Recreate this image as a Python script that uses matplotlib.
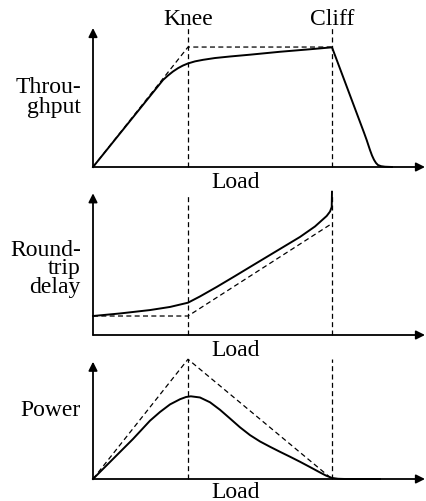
import matplotlib
matplotlib.use("Agg")
import matplotlib.pyplot as plt

# ---------------- data (load units: knee = 1.0, cliff = 2.516) ----------------
knee_load = 1.0
cliff_load = 2.516

# Throughput panel
tp_load = [0, 0.737, 0.789, 0.842, 0.895, 0.947, 1.0, 1.074, 1.158, 1.284, 1.442, 1.653,
           1.968, 2.284, 2.516, 2.853, 2.881, 2.895, 2.916, 2.937, 2.958, 2.979, 3.0,
           3.032, 3.074, 3.147]
tp_val = [0, 0.626, 0.658, 0.687, 0.711, 0.730, 0.745, 0.760, 0.771, 0.784, 0.795, 0.808,
          0.829, 0.847, 0.861, 0.247, 0.194, 0.165, 0.122, 0.083, 0.052, 0.029, 0.014,
          0.006, 0.002, 0.0]
tp_ideal_load = [0, 1.0, 2.516]
tp_ideal_val = [0, 0.863, 0.863]

# Round-trip delay panel
dl_load = [0, 0.284, 0.6, 0.811, 1.0, 1.126, 1.302, 1.495, 1.653, 1.916, 2.179, 2.337,
           2.460, 2.495, 2.513, 2.516]
dl_val = [0.134, 0.152, 0.176, 0.198, 0.228, 0.272, 0.339, 0.416, 0.480, 0.586, 0.692,
          0.766, 0.840, 0.871, 0.903, 1.011]
dl_ideal_load = [0, 1.0, 2.516]
dl_ideal_val = [0.134, 0.134, 0.787]

# Power panel
pw_load = [0, 0.211, 0.421, 0.6, 0.705, 0.811, 0.916, 0.979, 1.03, 1.126, 1.232, 1.337,
           1.442, 1.547, 1.653, 1.758, 1.863, 1.968, 2.074, 2.179, 2.284, 2.389, 2.453,
           2.516, 2.579, 2.653, 3.021]
pw_val = [0, 0.171, 0.341, 0.497, 0.571, 0.636, 0.680, 0.699, 0.705, 0.695, 0.654, 0.590,
          0.516, 0.441, 0.374, 0.320, 0.275, 0.232, 0.190, 0.147, 0.102, 0.056, 0.029,
          0.009, 0.002, 0.0, 0.0]
pw_ideal_load = [0, 1.0, 2.516]
pw_ideal_val = [0, 1.021, 0]

ylabels = ["Throu-\nghput", "Round-\ntrip\ndelay", "Power"]
xlabel = "Load"
top_labels = ["Knee", "Cliff"]

# ---------------- layout ----------------
W, H = 427, 501
plt.rcParams["font.family"] = ["Liberation Serif", "DejaVu Serif"]
plt.rcParams["lines.scale_dashes"] = False
fig = plt.figure(figsize=(W / 100, H / 100), dpi=100)

x0_px, x1_px = 93, 425
xmax = 3.495
# (axis y px, arrow top px, vline top fraction)
panels = [(167, 28, 1.007), (335, 193.3, 0.988), (479, 361.7, 1.023)]
series = [(tp_load, tp_val, tp_ideal_load, tp_ideal_val),
          (dl_load, dl_val, dl_ideal_load, dl_ideal_val),
          (pw_load, pw_val, pw_ideal_load, pw_ideal_val)]
label_tops = [77.0, 239.8, 400.5]
label_spacing = [0.96, 0.84, 1.0]
load_baselines = [188.3, 356, 497.5]

fs = 17
dash = (0, (3.6, 2.4))


def ftxt(x, y, s, ha, va="baseline", ls=1.0):
    fig.text(x / W, 1 - y / H, s, ha=ha, va=va, fontsize=fs, color="black",
             linespacing=ls, multialignment=ha)


for (yax, ytop, vtop), (lx, ly, ix, iy), lab, lt, lsp, lb in zip(
        panels, series, ylabels, label_tops, label_spacing, load_baselines):
    ax = fig.add_axes([x0_px / W, 1 - yax / H, (x1_px - x0_px) / W, (yax - ytop) / H])
    ax.set_xlim(0, xmax)
    ax.set_ylim(0, 1)
    ax.axis("off")
    # axes arrows
    ax.annotate("", xy=(xmax, 0), xytext=(0, 0),
                arrowprops=dict(arrowstyle="-|>", lw=1.3, color="black",
                                mutation_scale=13, shrinkA=0, shrinkB=0),
                annotation_clip=False)
    ax.annotate("", xy=(0, 1), xytext=(0, 0),
                arrowprops=dict(arrowstyle="-|>", lw=1.3, color="black",
                                mutation_scale=13, shrinkA=0, shrinkB=0),
                annotation_clip=False)
    # knee/cliff dashed verticals
    for xv in (knee_load, cliff_load):
        ax.plot([xv, xv], [0, vtop], color="black", lw=0.9, linestyle=dash,
                clip_on=False)
    ax.plot(ix, iy, color="black", lw=0.9, linestyle=dash, clip_on=False)
    ax.plot(lx, ly, color="black", lw=1.4, clip_on=False, solid_joinstyle="round")
    ftxt(81, lt, lab, "right", va="top", ls=lsp)
    ftxt(236, lb, xlabel, "center")

ftxt(188, 25, top_labels[0], "center")
ftxt(332, 25, top_labels[1], "center")

fig.savefig("out.png", dpi=100)
